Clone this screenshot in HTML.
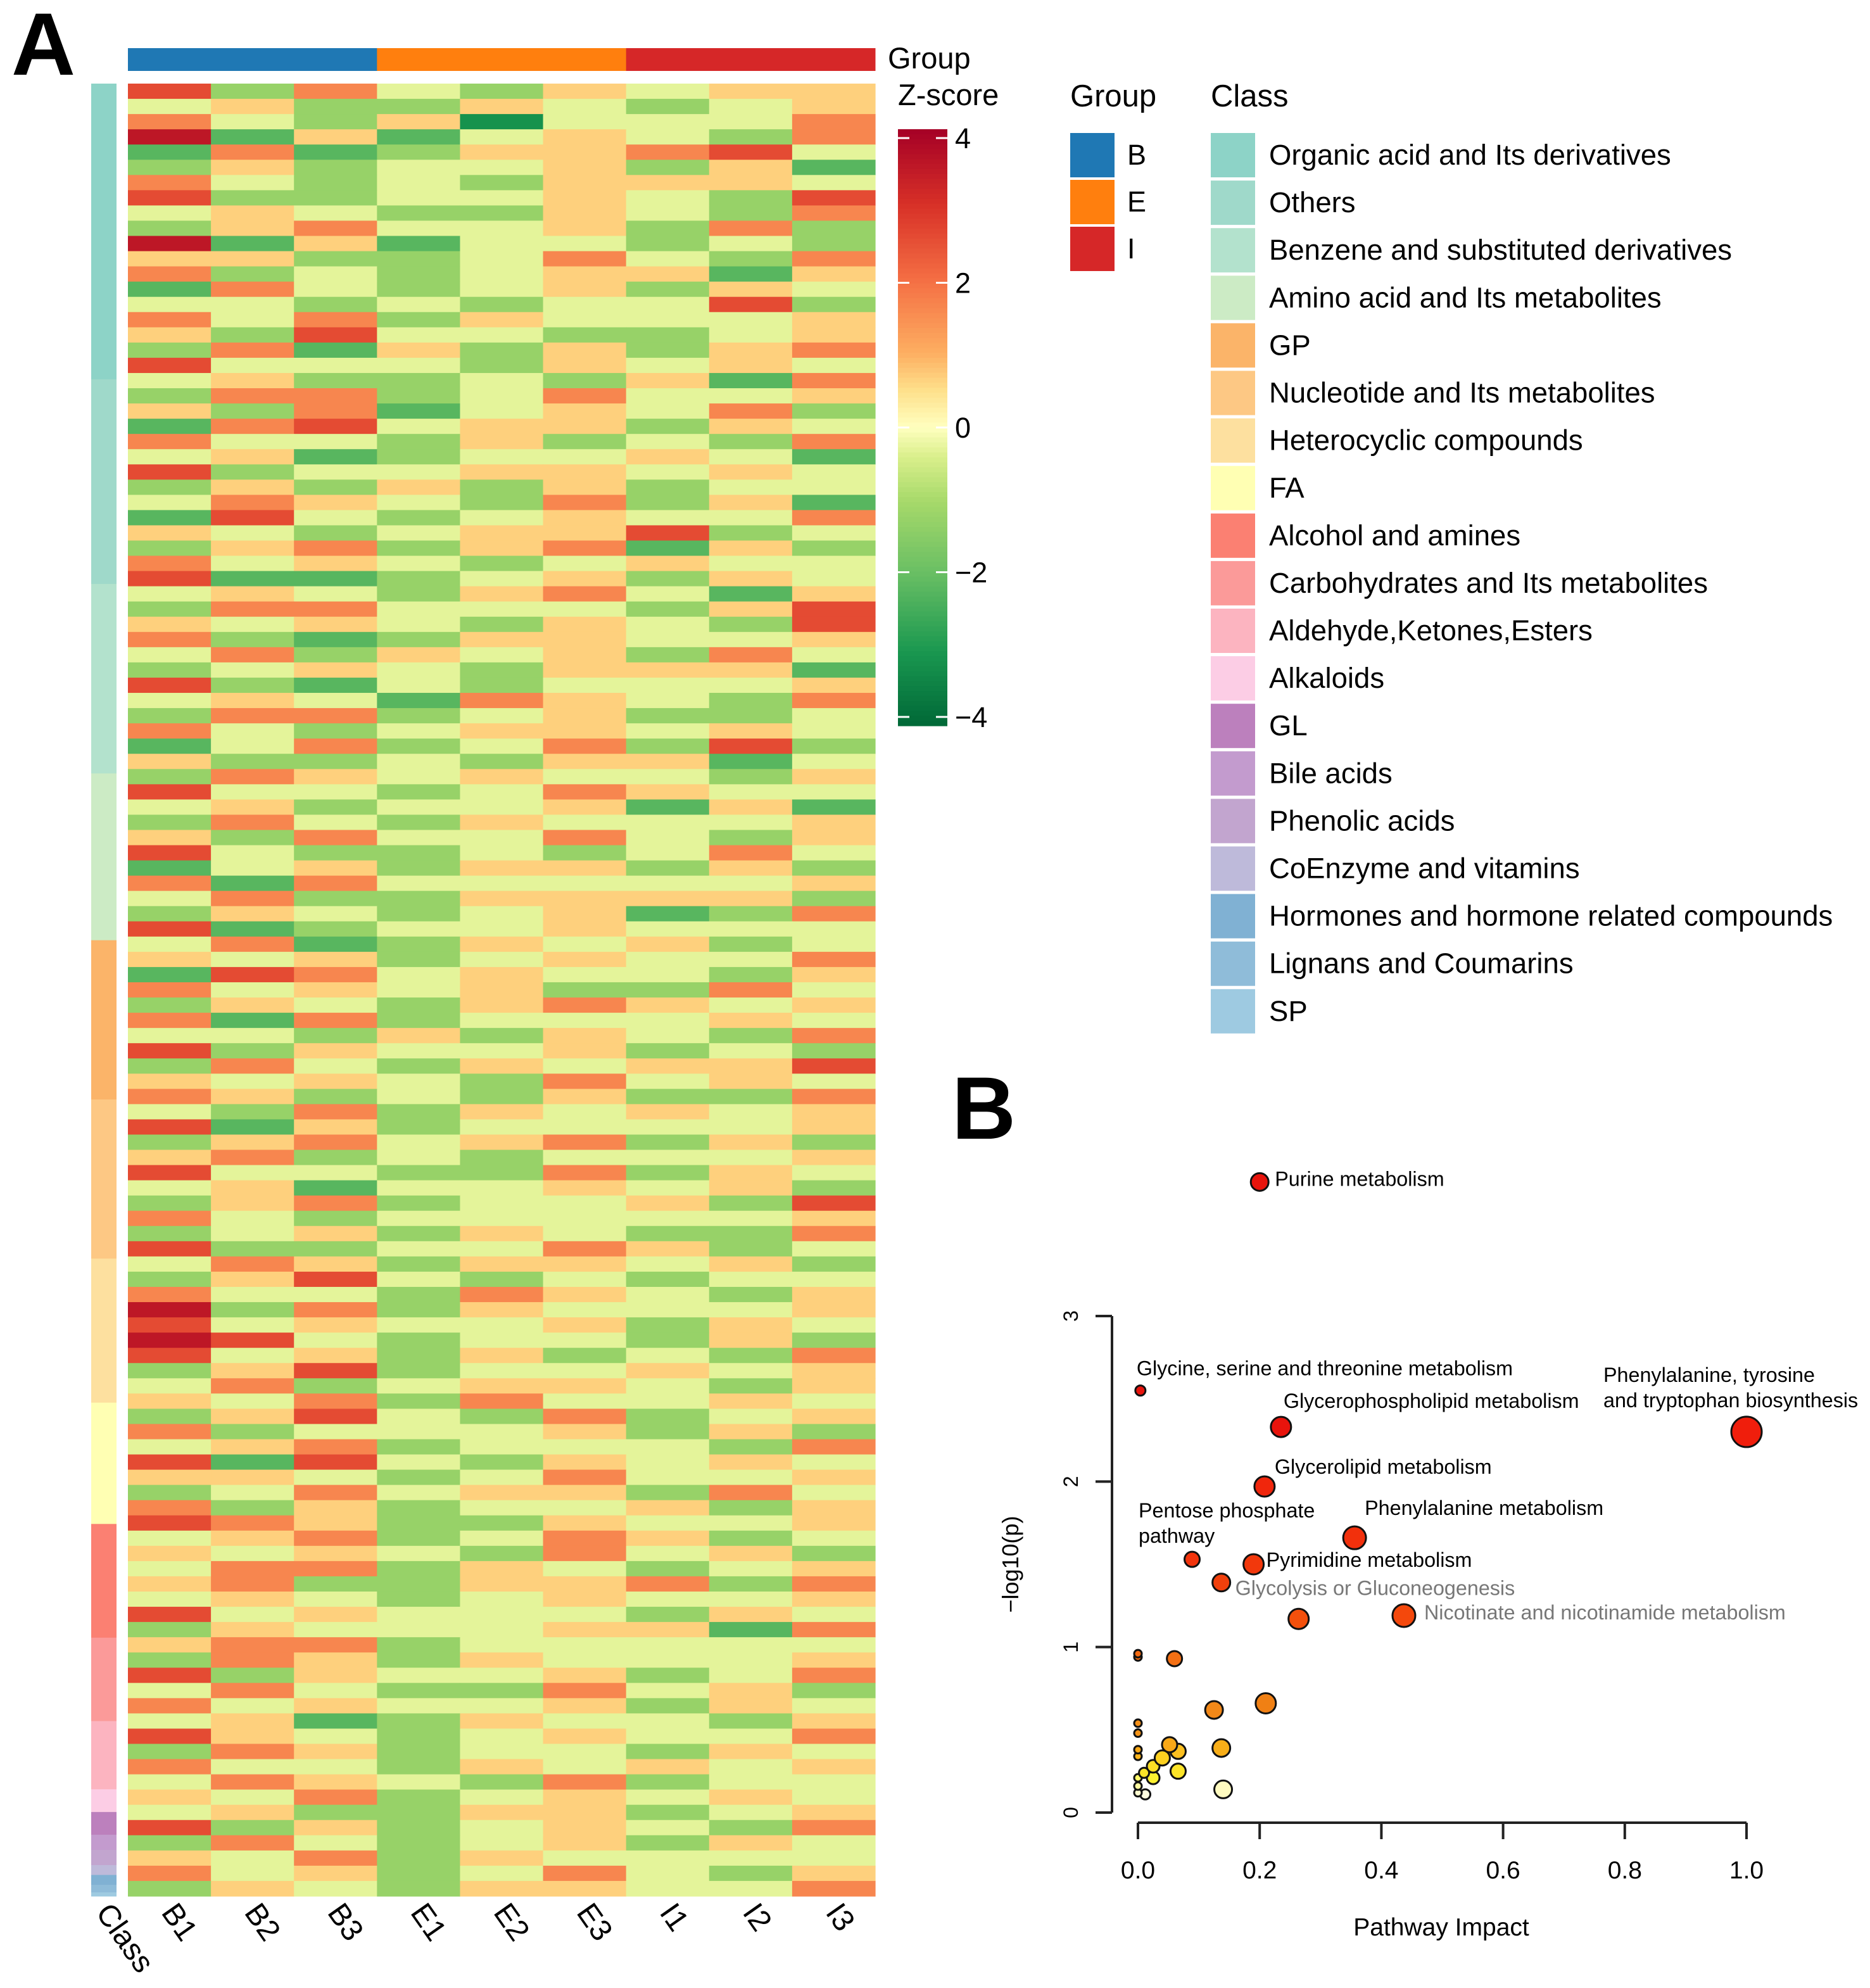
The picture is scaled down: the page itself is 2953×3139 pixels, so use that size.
<!DOCTYPE html>
<html><head><meta charset="utf-8"><style>
html,body{margin:0;padding:0;background:#fff}
svg{display:block;font-family:"Liberation Sans",Arial,sans-serif}
</style></head><body>
<svg id="fig" xmlns="http://www.w3.org/2000/svg" width="2953" height="3139" viewBox="0 0 2953 3139">
<text x="18" y="118" font-size="140" font-weight="bold">A</text>
<text x="1503" y="1798" font-size="140" font-weight="bold">B</text>
<g id="heat"></g>
<g id="cls"></g>
<g id="grp"></g>
<text x="1402" y="108" font-size="47">Group</text>
<g id="cbar"></g>
<text x="1418" y="166" font-size="47">Z-score</text>
<g id="leg"></g>
<g id="scatter"></g>
</svg>
<script>
const NS="http://www.w3.org/2000/svg";
function mk(tag,attrs,parent,txt){const e=document.createElementNS(NS,tag);for(const k in attrs)e.setAttribute(k,attrs[k]);if(txt!==undefined)e.textContent=txt;parent.appendChild(e);return e;}

// ---------- heatmap data ----------
const samples=["B1","B2","B3","E1","E2","E3","I1","I2","I3"];
const groups=["B","E","I"];
const groupColors=["#1f78b4","#ff7f0e","#d62728"];
const heatRows=[
"736435455","453354345","643514446","825245436","262355674","353445352","643435554","733445437","454335436","356445363",
"825244343","553346436","634345525","264345354","443434473","646354445","537443345","362535356","744435454","453343526",
"366346445","536245463","267455354","644353436","452344542","734455454","353535344","465436352","274345446","543455734",
"356356253","645434544","722345354","454356425","366444357","545435437","632355445","463545364","345435552","732434445",
"454265436","366345334","643455454","246346373","533435524","365454435","744346544","453445252","364354445","536446435",
"743343464","245355353","626444445","463355553","354345236","723445444","462354534","545345446","276454435","645453364",
"354356545","626344454","443535436","735445343","364354557","545436454","653435336","436354545","725344445","356456353",
"563434445","744336354","452445453","356344537","643444445","345354336","733446534","465355453","357434344","644365435",
"836354445","745445354","874344353","745353436","357344545","463455435","546364454","357436345","634445353","456344436",
"727435454","554346445","346455364","635344535","765335445","456346534","545436453","466354345","563355636","454345445",
"745444354","354445526","566344444","365354445","735445346","464336453","645445354","452354435","754345446","365344354",
"644354545","465436344","546345454","453355345","735345436","364345354","546354444","645346435","354355446"
];
const zStep=0.95; // z = (digit-4.3)*zStep

// colormap (reverse RdYlGn, -4..4)
const cmStops=[[-4,[0,104,55]],[-3,[26,152,80]],[-2,[102,189,99]],[-1,[166,217,106]],[-0.4,[217,239,139]],[0,[255,255,191]],[0.5,[254,224,139]],[1,[253,174,97]],[2,[244,109,67]],[3,[215,48,39]],[4,[165,0,38]]];
function cmap(z){z=Math.max(-4,Math.min(4,z));for(let i=0;i<cmStops.length-1;i++){const a=cmStops[i],b=cmStops[i+1];if(z<=b[0]){const t=(z-a[0])/(b[0]-a[0]);const c=a[1].map((v,j)=>Math.round(v+(b[1][j]-v)*t));return `rgb(${c[0]},${c[1]},${c[2]})`;}}return "rgb(165,0,38)";}

const HX0=202,HX1=1382,HY0=132,HY1=2994;
const heat=document.getElementById('heat');
const cw=(HX1-HX0)/samples.length, rh=(HY1-HY0)/heatRows.length;
heatRows.forEach((row,r)=>{
  for(let c=0;c<samples.length;c++){
    const z=(parseInt(row[c])-4.3)*zStep;
    const el=mk('rect',{x:HX0+c*cw,y:HY0+r*rh,width:cw+0.6,height:rh+0.6,fill:cmap(z)},heat);
    
    
  }
});
samples.forEach((s,i)=>{
  const cx=HX0+(i+0.5)*cw-14;
  const t=mk('text',{x:cx,y:3020,'font-size':48,transform:`rotate(55 ${cx} 3020)`},document.getElementById('fig'),s);
  
  
});
{const t=mk('text',{x:150,y:3020,'font-size':48,transform:'rotate(55 150 3020)'},document.getElementById('fig'),'Class');

}

// group bar
const grp=document.getElementById('grp');
groups.forEach((g,i)=>{const w=(HX1-HX0)/3;const el=mk('rect',{x:HX0+i*w,y:76,width:w+0.5,height:36,fill:groupColors[i]},grp);

});

// class bar
const classNames=["Organic acid and Its derivatives","Others","Benzene and substituted derivatives","Amino acid and Its metabolites","GP","Nucleotide and Its metabolites","Heterocyclic compounds","FA","Alcohol and amines","Carbohydrates and Its metabolites","Aldehyde,Ketones,Esters","Alkaloids","GL","Bile acids","Phenolic acids","CoEnzyme and vitamins","Hormones and hormone related compounds","Lignans and Coumarins","SP"];
const classColors=["#8dd3c7","#9fd9ca","#b3e2cd","#ccebc5","#fbb469","#fdc884","#fde09f","#ffffb3","#fb8072","#fb9a99","#fcb4c0","#fccde5","#bc80bd","#c39bce","#c2a5cf","#bebada","#80b1d3","#8fbcd9","#9ecae1"];
const classCounts=[39,27,25,22,21,21,19,16,15,11,9,3,3,2,2,1.3,1.3,1,0.5];
const cls=document.getElementById('cls');
{const tot=classCounts.reduce((a,b)=>a+b,0);let y=HY0;
classCounts.forEach((n,i)=>{const h=n/tot*(HY1-HY0);const el=mk('rect',{x:144,y:y,width:40,height:h+0.5,fill:classColors[i]},cls);

y+=h;});}

// colorbar
const cb=document.getElementById('cbar');
{const CY0=204,CY1=1146;const n=120;for(let i=0;i<n;i++){const z=4-8*(i+0.5)/n;const el=mk('rect',{x:1418,y:CY0+i*(CY1-CY0)/n,width:78,height:(CY1-CY0)/n+0.6,fill:cmap(z)},cb);

}
const cbTicks=[4,2,0,-2,-4];
cbTicks.forEach(v=>{const y=CY0+14+(4-v)/8*(CY1-CY0-28);
mk('line',{x1:1418,x2:1436,y1:y,y2:y,stroke:'#fff','stroke-width':3},cb);
mk('line',{x1:1478,x2:1496,y1:y,y2:y,stroke:'#fff','stroke-width':3},cb);
const t=mk('text',{x:1508,y:y+16,'font-size':45},cb,(v<0?'\u2212':'')+Math.abs(v));

});}

// legends
const leg=document.getElementById('leg');
{const t=mk('text',{x:1690,y:168,'font-size':49},leg,'Group');
const t2=mk('text',{x:1912,y:168,'font-size':49},leg,'Class');
groups.forEach((g,i)=>{const y=210+i*74;const r=mk('rect',{x:1690,y:y,width:70,height:70,fill:groupColors[i]},leg);

const tt=mk('text',{x:1780,y:y+50,'font-size':45},leg,g);});
classNames.forEach((c,i)=>{const y=210+i*75.1;const r=mk('rect',{x:1912,y:y,width:70,height:70,fill:classColors[i]},leg);

const tt=mk('text',{x:2004,y:y+50,'font-size':45.5},leg,c);});}

// ---------- scatter ----------
const impact=[0.20,0.004,0.235,1.0,0.208,0.356,0.089,0.19,0.137,0.437,0.264,0,0,0.06,0.21,0.125,0,0,0.052,0.137,0.066,0,0,0.04,0.025,0.01,0.025,0.066,0,0,0,0.012,0.14];
const logp=[3.81,2.55,2.33,2.30,1.97,1.66,1.53,1.50,1.39,1.19,1.17,0.96,0.94,0.93,0.66,0.62,0.54,0.48,0.41,0.39,0.37,0.38,0.34,0.33,0.28,0.24,0.21,0.25,0.21,0.16,0.12,0.11,0.14];
const radius=[14,8,16,24,16,18,12,16,14,18,16,6,6,12,16,14,6,6,12,14,12,6,6,12,10,8,10,12,6,6,6,8,14];
const fills=["#e8140c","#e8140c","#e8140c","#f01e0c","#f0260c","#f2300c","#f2340c","#f2380c","#f2400c","#f4480c","#f4500c","#f46a10","#f46a10","#f47014","#f08014","#f28818","#f49018","#f49418","#f8a818","#f8ae18","#fcc020","#f8a818","#fcb41c","#fcd020","#fcde24","#fce428","#fcf030","#fce428","#fff868","#fffaa0","#fffcd0","#fffde0","#fffbc0"];
const labels=[[0,"Purine metabolism",24,6,"#000"],[1,"Glycine, serine and threonine metabolism",-6,-24,"#000"],[2,"Glycerophospholipid metabolism",4,-30,"#000"],[4,"Glycerolipid metabolism",16,-20,"#000"],[5,"Phenylalanine metabolism",16,-36,"#000"],[7,"Pyrimidine metabolism",20,4,"#000"],[8,"Glycolysis or Gluconeogenesis",22,20,"#777"],[9,"Nicotinate and nicotinamide metabolism",32,6,"#777"]];
const xTicks=[0,0.2,0.4,0.6,0.8,1.0];
const yTicks=[0,1,2,3];
const SX0=1797,SX1=2758,SY0=2862,SY3=2078;
function sx(v){return SX0+v*(SX1-SX0);}
function sy(v){return SY0-v*(SY0-SY3)/3;}
const sc=document.getElementById('scatter');
mk('line',{x1:1756,x2:1756,y1:sy(0),y2:sy(3),stroke:'#222','stroke-width':4},sc);
yTicks.forEach(v=>{mk('line',{x1:1730,x2:1756,y1:sy(v),y2:sy(v),stroke:'#222','stroke-width':4},sc);
const t=mk('text',{x:1702,y:sy(v),'font-size':32,'text-anchor':'middle',transform:`rotate(-90 1702 ${sy(v)})`},sc,String(v));
});
mk('line',{x1:sx(0),x2:sx(1),y1:2878,y2:2878,stroke:'#222','stroke-width':4},sc);
xTicks.forEach(v=>{mk('line',{x1:sx(v),x2:sx(v),y1:2878,y2:2904,stroke:'#222','stroke-width':4},sc);
const t=mk('text',{x:sx(v),y:2966,'font-size':39,'text-anchor':'middle'},sc,v.toFixed(1));
});
{const t=mk('text',{x:2276,y:3056,'font-size':39,'text-anchor':'middle'},sc,'Pathway Impact');
const t2=mk('text',{x:1608,y:2470,'font-size':36,'text-anchor':'middle',transform:'rotate(-90 1608 2470)'},sc,'\u2212log10(p)');}
const order=impact.map((_,i)=>i).reverse();
order.forEach(i=>{const c=mk('circle',{cx:sx(impact[i]),cy:sy(logp[i]),r:radius[i],fill:fills[i],stroke:'#111','stroke-width':3},sc);

});
labels.forEach(([i,txt,dx,dy,col])=>{const t=mk('text',{x:sx(impact[i])+dx,y:sy(logp[i])+dy,'font-size':32.3,fill:col},sc,txt);
});
{const t=mk('text',{x:2532,y:2182,'font-size':32.3},sc,'Phenylalanine, tyrosine');
const t2=mk('text',{x:2532,y:2222,'font-size':32.3},sc,'and tryptophan biosynthesis');
const t3=mk('text',{x:1798,y:2396,'font-size':32.3},sc,'Pentose phosphate');
const t4=mk('text',{x:1798,y:2436,'font-size':32.3},sc,'pathway');}
</script>
</body></html>
